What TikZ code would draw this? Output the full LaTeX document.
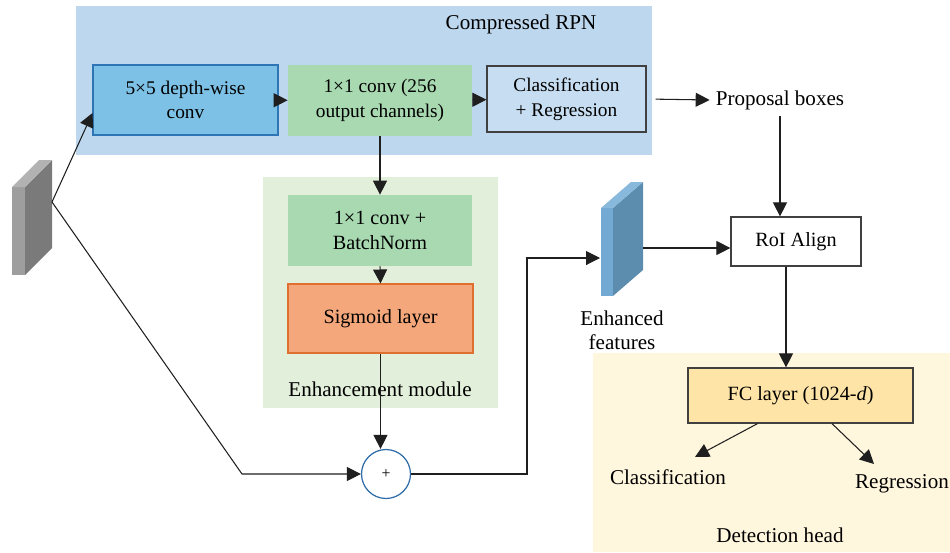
\documentclass[tikz,border=0pt]{standalone}
\usepackage{fontspec}
\setmainfont{Liberation Serif}
\usetikzlibrary{arrows.meta}

\definecolor{rpnbg}{HTML}{BDD7EE}
\definecolor{enhbg}{HTML}{E2EFDA}
\definecolor{detbg}{HTML}{FFF6DE}
\definecolor{dwfill}{HTML}{7DC2E6}
\definecolor{dwline}{HTML}{2E75B6}
\definecolor{convfill}{HTML}{A9D9B1}
\definecolor{sigfill}{HTML}{F4A77A}
\definecolor{sigline}{HTML}{E0702F}
\definecolor{fcfill}{HTML}{FFE4A8}
\definecolor{plusline}{HTML}{2E6DA8}
\definecolor{slabfront}{HTML}{72AAD3}
\definecolor{slabside}{HTML}{5D8DAE}
\definecolor{slabtop}{HTML}{88B8DC}

\newcommand{\rpnfont}{\fontsize{11}{14}\selectfont}
\newcommand{\boxfont}{\fontsize{11.5}{14}\selectfont}
\newcommand{\lblfont}{\fontsize{12}{13.6}\selectfont}

\begin{document}
\begin{tikzpicture}[
    x=0.02cm,y=-0.02cm,
    rpnbox/.style={align=center,font=\rpnfont,inner sep=0pt},
    blk/.style={align=center,font=\boxfont,inner sep=0pt},
    lbl/.style={align=center,font=\lblfont},
    arr/.style={-{Triangle[length=2.8mm,width=2.8mm]},line width=.6pt,black!88},
  ]
    \useasboundingbox (0,0) rectangle (950,552);
    % panels behind the blocks
    \fill[rpnbg] (76,6) rectangle (652,155);
    \fill[enhbg] (263,177) rectangle (498,408);
    \fill[detbg] (593,353) rectangle (950,552);
    \node[lbl] (rpnlbl) at (521,24) {Compressed RPN};
    \node[lbl] (enhlbl) at (380,389) {Enhancement module};
    \node[lbl] (detlbl) at (780,535) {Detection head};

    % input feature map (grey slab)
    \fill[black!38] (12,187) -- (25,187) -- (25,275) -- (12,275) -- cycle;
    \fill[black!52] (25,187) -- (52,160) -- (52,248) -- (25,275) -- cycle;
    \fill[black!30] (12,187) -- (39,160) -- (52,160) -- (25,187) -- cycle;
    \coordinate (in) at (52,202);

    % enhanced feature map (blue slab)
    \fill[slabfront] (601,208) -- (613,208) -- (613,296) -- (601,296) -- cycle;
    \fill[slabside] (613,208) -- (643,182) -- (643,270) -- (613,296) -- cycle;
    \fill[slabtop] (601,208) -- (631,182) -- (643,182) -- (613,208) -- cycle;
    \coordinate (efin) at (600,258);
    \coordinate (efout) at (643,248);
    \node[lbl] (eflbl) at (622,330) {Enhanced\\features};

    % compressed RPN
    \node[rpnbox,fill=dwfill,draw=dwline,line width=.6pt,minimum width=3.70cm,minimum height=1.40cm]
      (dw) at (185.5,100) {5×5 depth-wise\\conv};
    \node[rpnbox,fill=convfill,minimum width=3.68cm,minimum height=1.42cm]
      (pw) at (380,100.5) {1×1 conv (256\\output channels)};
    \node[rpnbox,fill=rpnbg!85!white,draw=black!75,line width=.7pt,minimum width=3.18cm,minimum height=1.32cm]
      (cr) at (566.5,99) {Classification\\+ Regression};
    \node[lbl] (prop) at (780,100) {Proposal boxes};

    % enhancement module
    \node[blk,fill=convfill,minimum width=3.68cm,minimum height=1.42cm]
      (bn) at (380,230.5) {1×1 conv +\\BatchNorm};
    \node[blk,fill=sigfill,draw=sigline,line width=.6pt,minimum width=3.70cm,minimum height=1.38cm]
      (sig) at (380.5,318.5) {Sigmoid layer};
    \node[circle,draw=plusline,line width=.7pt,fill=white,minimum size=0.98cm,inner sep=0pt,font=\small]
      (plus) at (386,474) {+};
    \coordinate (bend) at (242,474);
    \coordinate (up) at (527,258);

    % detection head
    \node[blk,fill=white,draw=black!75,line width=.7pt,minimum width=2.60cm,minimum height=0.98cm]
      (roi) at (796,241.5) {RoI Align};
    \node[blk,fill=fcfill,draw=black!75,line width=.7pt,minimum width=4.50cm,minimum height=1.10cm]
      (fc) at (800.5,395.5) {FC layer (1024-\textit{d})};
    \node[lbl] (cls) at (668,477) {Classification};
    \node[lbl] (reg) at (902,484) {Regression};

    % connectors
    \draw[arr] (in) -- ([yshift=-.26cm]dw.west);
    \draw[arr] (in) -- (bend) -- (plus.west);
    \draw[arr] (dw) -- (pw);
    \draw[arr] (pw) -- (cr);
    \draw[arr,shorten <=.18cm] (cr.east) -- (prop.west);
    \draw[arr] (prop.south) -- (prop.south |- roi.north);
    \draw[arr] (pw.south) -- (bn.north);
    \draw[arr] (bn.south) -- (sig.north);
    \draw[arr] (sig.south) -- (sig.south |- plus.north);
    \draw[arr] (plus.east) -| (up) -- (efin);
    \draw[arr] (efout) -- (efout -| roi.west);
    \draw[arr] ([xshift=-.2cm]roi.south) -- ([xshift=-.2cm]roi.south |- fc.north);
    \draw[arr] ([xshift=-.86cm]fc.south) -- ([xshift=.54cm,yshift=.4cm]cls.center);
    \draw[arr] ([xshift=.63cm]fc.south) -- ([xshift=-.56cm,yshift=.4cm]reg.center);
  \end{tikzpicture}
\end{document}
